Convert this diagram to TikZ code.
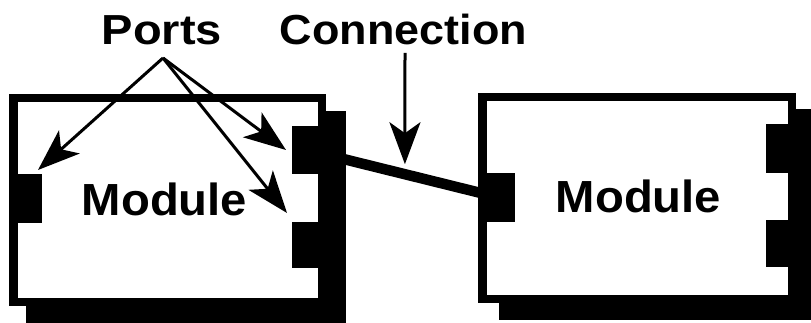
\documentclass[tikz,border=0pt]{standalone}
\usepackage{fontspec}
\setmainfont{Liberation Sans}
\usetikzlibrary{arrows.meta,calc,backgrounds}
\begin{document}
\begin{tikzpicture}[x=1pt,y=-1pt,
  module/.style={draw=black,line width=8.5pt,fill=white,rectangle,inner sep=0pt},
  port/.style={fill=black,rectangle,inner sep=0pt,outer sep=0pt},
  title/.style={inner sep=0pt,anchor=base,font=\bfseries\fontsize{42}{48}\selectfont},
  modtext/.style={inner sep=0pt,anchor=base,font=\bfseries\fontsize{45}{52}\selectfont},
  arr/.style={line width=3pt,arrows={-Stealth[length=42pt,width=31pt,inset=11pt]}},
  conn/.style={line width=10.5pt},
  shadowfill/.style={fill=black}]
\clip (0,0) rectangle (811,323);
% modules
\node[module,minimum width=308.5pt,minimum height=203.5pt] (mL) at (167.5,200) {};
\node[module,minimum width=309.5pt,minimum height=201.5pt] (mR) at (637,198) {};
% ports
\node[port,minimum width=28pt,minimum height=49pt] (pLw) at (28,198.5) {};
\node[port,minimum width=30pt,minimum height=48pt] (pR1) at (307,150) {};
\node[port,minimum width=30pt,minimum height=46pt] (pR2) at (307,245) {};
\node[port,minimum width=32pt,minimum height=49pt] (qL) at (499,197.5) {};
\node[port,minimum width=26pt,minimum height=49pt] (qR1) at (779,148.5) {};
\node[port,minimum width=26pt,minimum height=47pt] (qR2) at (779,243.5) {};
% texts
\node[title] (ports) at (162,45) {\scalebox{1.12}[1]{Ports}};
\node[title] (connection) at (403.5,45) {\scalebox{1.07}[1]{Connection}};
\node[modtext] (tL) at (164.5,215) {\scalebox{1.05}[1]{Module}};
\node[modtext] (tR) at (638.5,212) {\scalebox{1.05}[1]{Module}};
% connection
\draw[conn] (pR1.center) -- (qL.center);
% shadows and background
\begin{pgfonlayer}{background}
\fill[white] (0,0) rectangle (811,323);
\fill[shadowfill] ($(mL.south west)+(17,17)$) rectangle ($(mL.north east)+(20,17)$);
\fill[shadowfill] ($(mR.south west)+(21,17)$) rectangle ($(mR.north east)+(20,16)$);
\end{pgfonlayer}
% arrows
\coordinate (po) at (163,58);
\coordinate (t1) at ($(pLw.north east)+(-4,-4)$);
\coordinate (t2) at ($(pR1.west)+(-6,0)$);
\coordinate (t3) at ($(pR2.north west)+(-5,-9)$);
\draw[arr] (po) -- (t1);
\draw[arr] (po) -- (t2);
\draw[arr] (po) -- (t3);
\coordinate (ctop) at (405,53);
\coordinate (t4) at ($(pR1.center)!0.51!(qL.center)+(0,-10)$);
\draw[arr] (ctop) -- (t4);
\end{tikzpicture}
\end{document}
